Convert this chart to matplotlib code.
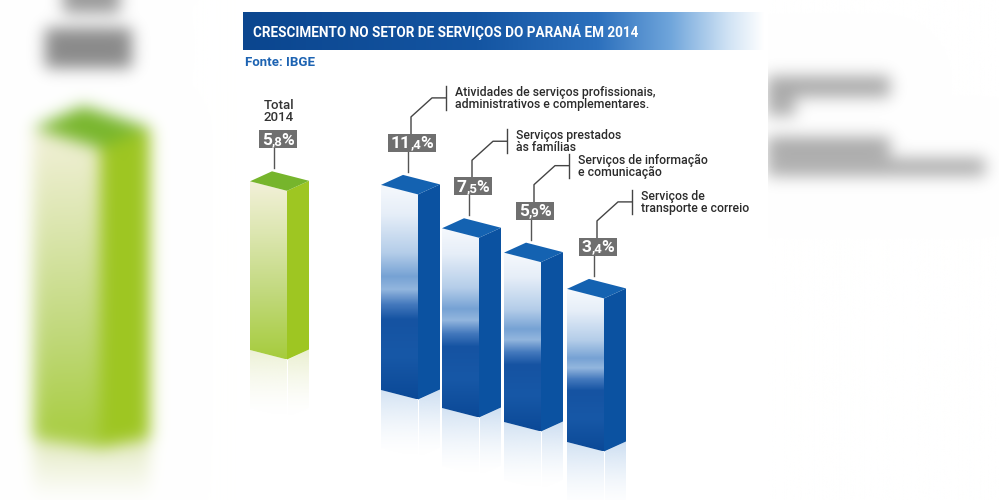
import numpy as np
import matplotlib
matplotlib.use('Agg')
import matplotlib.pyplot as plt
from matplotlib.path import Path
from matplotlib.patches import Polygon, Rectangle
from matplotlib.colors import LinearSegmentedColormap, to_rgb

W, H = 999, 500

# ---- data ----
title = 'CRESCIMENTO NO SETOR DE SERVIÇOS DO PARANÁ EM 2014'
source = 'Fonte: IBGE'
total_label = 'Total\n2014'
total_value = 5.8
categories = ['Atividades de serviços profissionais,\nadministrativos e complementares.',
              'Serviços prestados\nàs famílias',
              'Serviços de informação\ne comunicação',
              'Serviços de\ntransporte e correio']
values = [11.4, 7.5, 5.9, 3.4]

# ---- layout (pixels) ----
blue_x = [381, 442, 504, 567]
blue_base = [390, 408, 422, 442]
green_x, green_base = 250, 350
fw, fd, sw, sr = 37, 9.5, 22, 10      # box projection
h0, hk = 131, 6.5                      # bar height = h0 + hk * value

plt.rcParams['font.family'] = ['Roboto', 'DejaVu Sans']

fig = plt.figure(figsize=(W / 100, H / 100), dpi=100)
ax = fig.add_axes([0, 0, 1, 1])
ax.set_axis_off()
renderer = fig.canvas.get_renderer()

blue_face = LinearSegmentedColormap.from_list('bf', [
    (0.0, '#f6f9fd'), (0.14, '#e6eef8'), (0.32, '#b4cde9'), (0.43, '#76a2d4'),
    (0.49, '#93b6de'), (0.56, '#4479bd'), (0.63, '#1553a2'), (0.80, '#1758a7'),
    (1.0, '#0b4997')])
green_face = LinearSegmentedColormap.from_list('gf', [
    (0.0, '#f3f1da'), (0.3, '#dce6b0'), (0.65, '#c0d87a'), (1.0, '#a6cc3c')])
banner = LinearSegmentedColormap.from_list('bn', [
    (0.0, '#0b468f'), (0.45, '#1455a2'), (0.68, '#2c70bd'), (0.82, '#6fa5db'),
    (0.93, '#cfe2f4'), (1.0, '#ffffff')])


# ---- blurred background copies on the sides ----
def blur(img, s):
    p = int(3 * s)
    pad = np.pad(img, ((p, p), (p, p), (0, 0)), mode='edge')
    h, w = pad.shape[:2]
    fy = np.fft.fftfreq(h)[:, None]
    fx = np.fft.fftfreq(w)[None, :]
    g = np.exp(-2 * (np.pi * s) ** 2 * (fx ** 2 + fy ** 2))
    out = np.real(np.fft.ifft2(np.fft.fft2(pad, axes=(0, 1)) * g[:, :, None], axes=(0, 1)))
    return out[p:-p, p:-p]


bg = np.ones((H, W, 3))
yy, xx = np.mgrid[0:H, 0:W] + 0.5
pts = np.column_stack([xx.ravel(), yy.ravel()])


def paint(verts, col):
    m = Path(verts).contains_points(pts).reshape(H, W)
    if callable(col):
        bg[m] = col(yy[m])
    else:
        bg[m] = to_rgb(col)


def gcol(y):
    t = np.clip((y - 128) / 320, 0, 1)
    return green_face(t)[:, :3]


def rcol(y):
    t = np.clip((y - 440) / 60, 0, 1)[:, None]
    return (1 - t) * np.array(to_rgb('#e4eac4')) + t * np.array([1, 1, 1])


paint([(33, 128), (100, 148), (100, 448), (33, 438)], gcol)
paint([(100, 148), (150, 128), (150, 438), (100, 448)], '#9ec622')
paint([(33, 128), (100, 148), (150, 128), (83, 106)], '#78b62c')
paint([(33, 438), (100, 448), (150, 438), (150, 500), (33, 500)], rcol)
paint([(45, 28), (132, 28), (132, 68), (45, 68)], '#8a8a8a')
paint([(63, 0), (120, 0), (120, 13), (63, 13)], '#9a9a9a')
paint([(767, 76), (890, 76), (890, 97), (767, 97)], '#a8a8a8')
paint([(767, 97), (795, 97), (795, 116), (767, 116)], '#acacac')
paint([(767, 137), (890, 137), (890, 157), (767, 157)], '#a8a8a8')
paint([(767, 158), (985, 158), (985, 176), (767, 176)], '#acacac')
bg = np.clip(blur(bg, 8), 0, 1)
ax.imshow(bg, extent=(0, W, H, 0), interpolation='bilinear', zorder=0)
ax.add_patch(Rectangle((243, 0), 525, H, facecolor='white', edgecolor='none', zorder=1))


def grad_fill(verts, cmap, z, alpha=None):
    poly = Polygon(verts, closed=True, facecolor='none', edgecolor='none')
    ax.add_patch(poly)
    xs = [v[0] for v in verts]
    ys = [v[1] for v in verts]
    g = np.linspace(0, 1, 256)
    rgba = cmap(g)
    if alpha is not None:
        rgba[:, 3] = alpha(g)
    im = ax.imshow(rgba.reshape(-1, 1, 4), extent=(min(xs), max(xs), max(ys), min(ys)),
                   aspect='auto', interpolation='bilinear', zorder=z)
    im.set_clip_path(poly)


def draw_bar(x0, yb, v, face_cmap, side_col, top_col, refl_col):
    h = h0 + hk * v
    yt = yb - h
    left = [(x0, yt), (x0 + fw, yt + fd), (x0 + fw, yb + fd), (x0, yb)]
    right = [(x0 + fw, yt + fd), (x0 + fw + sw, yt + fd - sr), (x0 + fw + sw, yb + fd - sr), (x0 + fw, yb + fd)]
    top = [(x0, yt), (x0 + fw, yt + fd), (x0 + fw + sw, yt + fd - sr), (x0 + sw, yt - sr)]
    rl = 58
    refl_cmap = LinearSegmentedColormap.from_list('r', [refl_col, refl_col])
    grad_fill([(x0, yb), (x0 + fw, yb + fd), (x0 + fw, yb + fd + rl), (x0, yb + rl)],
              refl_cmap, 2, alpha=lambda g: 0.75 * (1 - g) ** 1.6)
    grad_fill([(x0 + fw + 1, yb + fd), (x0 + fw + sw, yb + fd - sr), (x0 + fw + sw, yb + fd - sr + rl),
               (x0 + fw + 1, yb + fd + rl)], refl_cmap, 2, alpha=lambda g: 0.85 * (1 - g) ** 1.6)
    grad_fill(left, face_cmap, 3)
    ax.add_patch(Polygon(right, closed=True, facecolor=side_col, edgecolor='none', zorder=3))
    ax.add_patch(Polygon(top, closed=True, facecolor=top_col, edgecolor='none', zorder=3))
    return x0 + sw, yt - sr   # back peak of the top face


def value_box(px, py, v, off=9):
    cx = px + off
    ybot = py - 23
    ip, dp = f'{v:.1f}'.split('.')
    parts = [(ip, 12.5), (',' + dp, 9.5), ('%', 12.5)]
    widths = []
    for t, sz in parts:
        tt = ax.text(0, 0, t, fontsize=sz, fontweight='bold')
        widths.append(tt.get_window_extent(renderer).width)
        tt.remove()
    widths[1] -= 1
    tw = sum(widths)
    bw = tw + 6
    ax.add_patch(Rectangle((cx - bw / 2, ybot - 18), bw, 18, facecolor='#6f6f6f', edgecolor='none', zorder=5))
    x = cx - tw / 2
    for (t, sz), w in zip(parts, widths):
        ax.text(x, ybot - 3.5, t, fontsize=sz, fontweight='bold', color='white', va='baseline', ha='left', zorder=6)
        x += w
    ax.plot([cx - 4, cx - 4], [ybot, py - 3], color='#555555', lw=1.0, zorder=4)
    return cx, ybot - 18


# ---- title banner ----
ban = Polygon([(243, 12), (765, 12), (765, 50), (243, 50)], closed=True, facecolor='none', edgecolor='none')
ax.add_patch(ban)
bim = ax.imshow(banner(np.linspace(0, 1, 256)).reshape(1, -1, 4), extent=(243, 765, 50, 12),
                aspect='auto', interpolation='bilinear', zorder=2)
bim.set_clip_path(ban)
tt = ax.text(253, 31.5, title, fontsize=10, fontweight='bold', color='white', va='center', ha='left', zorder=6)
tt.set_fontsize(10 * 385 / tt.get_window_extent(renderer).width)
ax.text(245, 63, source, fontsize=9.5, fontweight='bold', color='#1d63b2', va='center', ha='left', zorder=6)

# ---- total bar ----
gx, gy = draw_bar(green_x, green_base, total_value, green_face, '#9ec622', '#76b52c', '#e6ecc6')
cx, btop = value_box(gx, gy, total_value, off=6)
ax.text(cx + 1, btop - 6, total_label, fontsize=9.5, fontweight='medium', color='#333333',
        ha='center', va='bottom', linespacing=0.95, zorder=6)

# ---- sector bars ----
for x0, yb, v, lab in zip(blue_x, blue_base, values, categories):
    px, py = draw_bar(x0, yb, v, blue_face, '#0b52a1', '#1462b1', '#c3d8ef')
    cx, btop = value_box(px, py, v)
    vx, vy = cx - 1, btop - 17
    dx, dy = vx + 21, vy - 19
    hx = dx + 14
    ax.plot([vx, vx, dx, hx], [btop, vy, dy, dy], color='#444444', lw=1.0, zorder=4)
    ax.plot([hx, hx], [dy - 12, dy + 12], color='#444444', lw=1.0, zorder=4)
    ax.text(hx + 9, dy + 0.5, lab, fontsize=8.8, fontweight='medium', color='#2b2b2b',
            ha='left', va='center', linespacing=0.9, zorder=6)

ax.set_xlim(0, W)
ax.set_ylim(H, 0)
fig.savefig('out.png', dpi=100)
